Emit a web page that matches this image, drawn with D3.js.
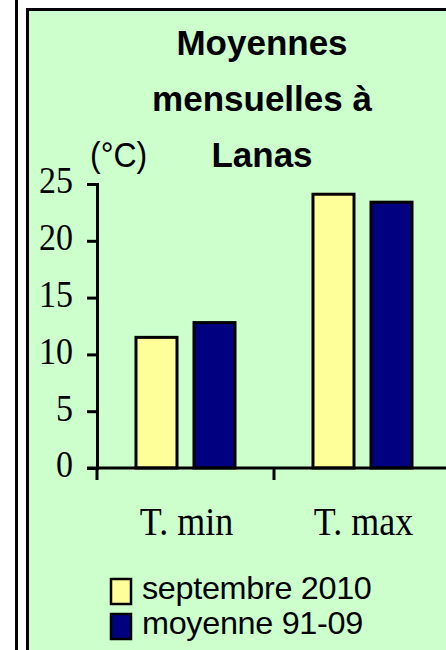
<!DOCTYPE html>
<html>
<head>
<meta charset="utf-8">
<script src="https://cdn.jsdelivr.net/npm/d3@7"></script>
<style>
html,body{margin:0;padding:0;background:#fff;}
svg{display:block;}
</style>
</head>
<body>
<svg id="chart" width="446" height="650"></svg>
<script>
// ---- data ----
const titleLines = ["Moyennes", "mensuelles à", "Lanas"];
const unitLabel = "(°C)";
const categories = ["T. min", "T. max"];
const seriesNames = ["septembre 2010", "moyenne 91-09"];
const sept2010 = [11.5, 24.1];
const moy9109 = [12.8, 23.4];
const yTicks = [0, 5, 10, 15, 20, 25];
const seriesColors = ["#FFFF99", "#000080"];

const seriesValues = [sept2010, moy9109];
const table = categories.map((c, i) => ({
  cat: c,
  vals: seriesNames.map((s, j) => ({ s, v: seriesValues[j][i], j }))
}));

const svg = d3.select("#chart");

// outer decoration
svg.append("rect").attr("x", 15).attr("y", 0).attr("width", 3).attr("height", 650).attr("fill", "#000");
svg.append("rect").attr("x", 27.5).attr("y", 9.5).attr("width", 600).attr("height", 800)
  .attr("fill", "#CCFFCC").attr("stroke", "#000").attr("stroke-width", 3);

// scales
const x0 = d3.scaleBand().domain(categories).range([97, 451]).padding(0);
const x1 = d3.scaleBand().domain(seriesNames).range([0, x0.bandwidth()])
  .paddingInner(0.293).paddingOuter(0.672);
const y = d3.scaleLinear().domain([0, 25]).range([468, 184]);

// title
svg.append("g").selectAll("text").data(titleLines).join("text")
  .attr("x", 262)
  .attr("y", (d, i) => 55 + i * 56)
  .attr("text-anchor", "middle")
  .attr("font-family", "Liberation Sans, Arial, sans-serif")
  .attr("font-weight", "bold")
  .attr("font-size", 35)
  .attr("fill", "#000")
  .text(d => d);

// unit label
svg.append("text")
  .attr("transform", "translate(90,167) scale(1,1.1)")
  .attr("font-family", "Liberation Sans, Arial, sans-serif")
  .attr("font-size", 32)
  .attr("fill", "#000")
  .text(unitLabel);

// bars
const groups = svg.append("g").selectAll("g").data(table).join("g")
  .attr("transform", d => `translate(${x0(d.cat)},0)`);
groups.selectAll("rect").data(d => d.vals).join("rect")
  .attr("x", d => x1(d.s))
  .attr("width", x1.bandwidth())
  .attr("y", d => y(d.v))
  .attr("height", d => y(0) - y(d.v))
  .attr("fill", d => seriesColors[d.j])
  .attr("stroke", "#000")
  .attr("stroke-width", 3);

// y axis
const yAxis = svg.append("g").attr("transform", `translate(${x0.range()[0]},0)`)
  .call(d3.axisLeft(y).tickValues(yTicks).tickSize(10).tickPadding(14).tickFormat(d3.format("d")));
yAxis.selectAll("path,line").attr("stroke", "#000").attr("stroke-width", 3);
yAxis.selectAll("text")
  .attr("font-family", "Liberation Serif, Times New Roman, serif")
  .attr("font-size", 34)
  .attr("fill", "#000")
  .attr("dy", "8px")
  .attr("transform", "scale(1,1.1)");

// x axis
const xAxis = svg.append("g").attr("transform", `translate(0,${y(0)})`)
  .call(d3.axisBottom(x0).tickSize(0).tickPadding(0));
xAxis.select("path.domain").remove();
xAxis.selectAll("text")
  .attr("y", 0).attr("dy", 0)
  .attr("font-family", "Liberation Serif, Times New Roman, serif")
  .attr("font-size", 36)
  .attr("fill", "#000")
  .attr("transform", "translate(1,67) scale(1,1.1)");

// x baseline and boundary ticks
const bounds = categories.map(c => x0(c)).concat([x0(categories[categories.length - 1]) + x0.bandwidth()]);
svg.append("line")
  .attr("x1", x0.range()[0] - 10).attr("x2", x0.range()[1])
  .attr("y1", y(0)).attr("y2", y(0))
  .attr("stroke", "#000").attr("stroke-width", 3);
svg.append("g").selectAll("line").data(bounds).join("line")
  .attr("x1", d => d).attr("x2", d => d)
  .attr("y1", y(0)).attr("y2", y(0) + 12)
  .attr("stroke", "#000").attr("stroke-width", 3);

// legend
const legend = svg.append("g").selectAll("g").data(seriesNames).join("g")
  .attr("transform", (d, i) => `translate(0,${i * 35})`);
legend.append("rect")
  .attr("x", 111).attr("y", 579)
  .attr("width", 20).attr("height", 25)
  .attr("fill", (d, i) => seriesColors[i])
  .attr("stroke", "#000").attr("stroke-width", 2.5);
legend.append("text")
  .attr("transform", "translate(142,599) scale(1.08,1.02)")
  .attr("font-family", "Liberation Sans, Arial, sans-serif")
  .attr("font-size", 30)
  .attr("letter-spacing", -0.3)
  .attr("fill", "#000")
  .text(d => d);
</script>
</body>
</html>
